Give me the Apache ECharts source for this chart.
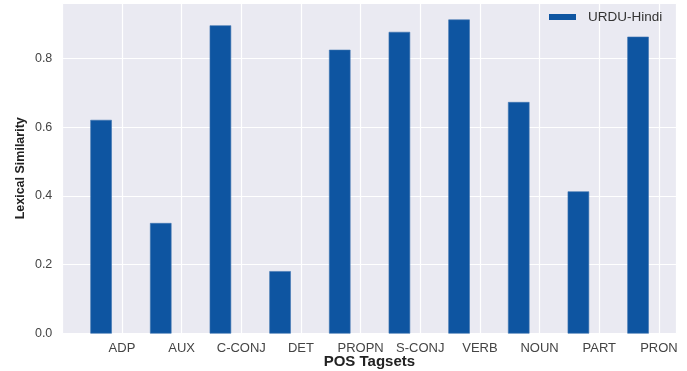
<!DOCTYPE html>
<html>
<head>
<meta charset="utf-8">
<script src="https://cdn.jsdelivr.net/npm/echarts@6/dist/echarts.min.js"></script>
<style>html,body{margin:0;padding:0;background:#fff;}#c{width:687px;height:371px;}</style>
</head>
<body>
<div id="c"></div>
<script>
const categories = ['ADP', 'AUX', 'C-CONJ', 'DET', 'PROPN', 'S-CONJ', 'VERB', 'NOUN', 'PART', 'PRON'];
const urduHindi = [0.62, 0.32, 0.895, 0.18, 0.824, 0.876, 0.912, 0.672, 0.412, 0.862];
const yTicks = ['0.0', '0.2', '0.4', '0.6', '0.8'];
const seriesName = 'URDU-Hindi';

const BAR_OFFSET = -0.35, BAR_W = 0.35;
const chart = echarts.init(document.getElementById('c'), null, {renderer: 'canvas'});
const data = urduHindi.map((v, i) => [i, v]);

chart.setOption({
  animation: false,
  backgroundColor: '#ffffff',
  grid: {left: 62.3, right: 10.6, top: 3.3, bottom: 37.7, show: true, backgroundColor: '#EAEAF2', borderWidth: 0, containLabel: false, outerBoundsMode: 'none'},
  legend: {
    data: [{name: seriesName, icon: 'rect'}],
    left: 549, top: 10, itemWidth: 27, itemHeight: 6, padding: 0,
    textStyle: {fontFamily: 'Liberation Sans, Arial, sans-serif', fontSize: 13.5, color: '#333', padding: [0, 0, 0, 7]}
  },
  xAxis: {
    type: 'value', min: -1, max: 9.2925, interval: 1,
    name: 'POS Tagsets', nameLocation: 'middle', nameGap: 21, nameMoveOverlap: false,
    nameTextStyle: {fontFamily: 'Liberation Sans, Arial, sans-serif', fontSize: 15, fontWeight: 'bold', color: '#222'},
    axisLine: {show: false}, axisTick: {show: false},
    splitLine: {show: true, lineStyle: {color: '#ffffff', width: 1.2}},
    axisLabel: {
      margin: 9, fontFamily: 'Liberation Sans, Arial, sans-serif', fontSize: 13, color: '#444',
      showMinLabel: true, showMaxLabel: true, hideOverlap: false,
      formatter: function (v) { const i = Math.round(v); return (Math.abs(v - i) < 1e-6 && i >= 0 && i < categories.length) ? categories[i] : ''; }
    }
  },
  yAxis: {
    type: 'value', min: 0, max: 0.96, interval: 0.2,
    name: 'Lexical Similarity', nameLocation: 'middle', nameGap: 35, nameMoveOverlap: false,
    nameTextStyle: {fontFamily: 'Liberation Sans, Arial, sans-serif', fontSize: 12.5, fontWeight: 'bold', color: '#222'},
    axisLine: {show: false}, axisTick: {show: false},
    splitLine: {show: true, lineStyle: {color: '#ffffff', width: 1.2}},
    axisLabel: {
      margin: 10, fontFamily: 'Liberation Sans, Arial, sans-serif', fontSize: 12.5, color: '#444',
      formatter: function (v) { const k = Math.round(v / 0.2); return (Math.abs(v - k * 0.2) < 1e-6 && k < yTicks.length) ? yTicks[k] : ''; }
    }
  },
  series: [{
    name: seriesName,
    type: 'custom',
    itemStyle: {color: '#0E55A1'},
    encode: {x: 0, y: 1},
    data: data,
    renderItem: function (params, api) {
      const x = api.value(0) + BAR_OFFSET;
      const y = api.value(1);
      const top = api.coord([x, y]);
      const base = api.coord([x, 0]);
      const w = api.size([BAR_W, 0])[0];
      return {
        type: 'rect',
        shape: {x: top[0] - w / 2, y: top[1], width: w, height: base[1] - top[1]},
        style: {fill: '#0E55A1', stroke: '#3E74B0', lineWidth: 0.6}
      };
    }
  }]
});
</script>
</body>
</html>
